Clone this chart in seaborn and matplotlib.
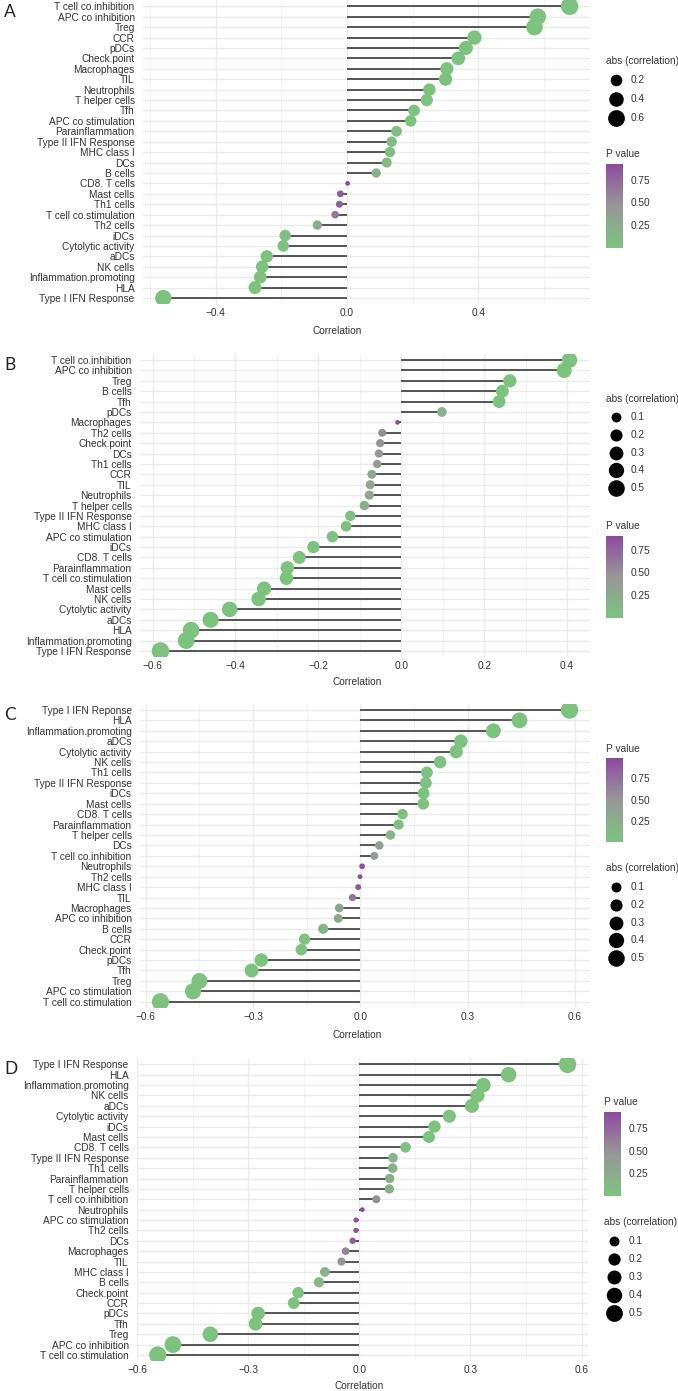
import numpy as np
import pandas as pd
import matplotlib
matplotlib.use("Agg")
import matplotlib.pyplot as plt
import seaborn as sns
from matplotlib.colors import LinearSegmentedColormap, Normalize
import matplotlib.colorbar as mcolorbar

# ---------------- data ----------------
a_cats = ["T cell co.inhibition", "APC co inhibition", "Treg", "CCR", "pDCs", "Check.point",
          "Macrophages", "TIL", "Neutrophils", "T helper cells", "Tfh", "APC co stimulation",
          "Parainflammation", "Type II IFN Response", "MHC class I", "DCs", "B cells",
          "CD8. T cells", "Mast cells", "Th1 cells", "T cell co.stimulation", "Th2 cells",
          "iDCs", "Cytolytic activity", "aDCs", "NK cells", "Inflammation.promoting", "HLA",
          "Type I IFN Response"]
a_corr = [0.678, 0.581, 0.571, 0.388, 0.362, 0.339, 0.304, 0.300, 0.251, 0.243, 0.204, 0.194,
          0.151, 0.136, 0.131, 0.121, 0.089, 0.002, -0.020, -0.023, -0.036, -0.090, -0.188,
          -0.194, -0.244, -0.258, -0.264, -0.280, -0.559]
a_p = [0.0, 0.0, 0.0, 0.0, 0.0, 0.0, 0.0, 0.0, 0.001, 0.001, 0.005, 0.008, 0.03, 0.05, 0.06,
       0.08, 0.20, 0.92, 0.82, 0.78, 0.65, 0.25, 0.04, 0.03, 0.005, 0.003, 0.002, 0.001, 0.0]
a_size_breaks = [0.2, 0.4, 0.6]

b_cats = ["T cell co.inhibition", "APC co inhibition", "Treg", "B cells", "Tfh", "pDCs",
          "Macrophages", "Th2 cells", "Check.point", "DCs", "Th1 cells", "CCR", "TIL",
          "Neutrophils", "T helper cells", "Type II IFN Response", "MHC class I",
          "APC co stimulation", "iDCs", "CD8. T cells", "Parainflammation",
          "T cell co.stimulation", "Mast cells", "NK cells", "Cytolytic activity", "aDCs",
          "HLA", "Inflammation.promoting", "Type I IFN Response"]
b_corr = [0.406, 0.393, 0.262, 0.244, 0.236, 0.098, -0.009, -0.046, -0.051, -0.054, -0.058,
          -0.071, -0.075, -0.077, -0.089, -0.123, -0.133, -0.166, -0.212, -0.246, -0.275,
          -0.277, -0.331, -0.344, -0.414, -0.460, -0.507, -0.519, -0.581]
b_p = [0.0, 0.0, 0.0, 0.0, 0.0, 0.15, 0.90, 0.52, 0.47, 0.44, 0.40, 0.30, 0.28, 0.27, 0.20,
       0.07, 0.05, 0.015, 0.002, 0.0, 0.0, 0.0, 0.0, 0.0, 0.0, 0.0, 0.0, 0.0, 0.0]
b_size_breaks = [0.1, 0.2, 0.3, 0.4, 0.5]

c_cats = ["Type I IFN Reponse", "HLA", "Inflammation.promoting", "aDCs", "Cytolytic activity",
          "NK cells", "Th1 cells", "Type II IFN Response", "iDCs", "Mast cells", "CD8. T cells",
          "Parainflammation", "T helper cells", "DCs", "T cell co.inhibition", "Neutrophils",
          "Th2 cells", "MHC class I", "TIL", "Macrophages", "APC co inhibition", "B cells",
          "CCR", "Check.point", "pDCs", "Tfh", "Treg", "APC co stimulation",
          "T cell co.stimulation"]
c_corr = [0.585, 0.445, 0.372, 0.281, 0.268, 0.223, 0.186, 0.183, 0.177, 0.176, 0.118, 0.107,
          0.084, 0.053, 0.039, 0.005, -0.001, -0.006, -0.022, -0.059, -0.062, -0.104, -0.156,
          -0.165, -0.277, -0.304, -0.450, -0.468, -0.559]
c_p = [0.0, 0.0, 0.0, 0.0, 0.0, 0.0, 0.001, 0.001, 0.001, 0.002, 0.05, 0.08, 0.15, 0.38, 0.45,
       0.95, 0.99, 0.88, 0.72, 0.32, 0.30, 0.13, 0.02, 0.015, 0.0, 0.0, 0.0, 0.0, 0.0]
c_size_breaks = [0.1, 0.2, 0.3, 0.4, 0.5]

d_cats = ["Type I IFN Response", "HLA", "Inflammation.promoting", "NK cells", "aDCs",
          "Cytolytic activity", "iDCs", "Mast cells", "CD8. T cells", "Type II IFN Response",
          "Th1 cells", "Parainflammation", "T helper cells", "T cell co.inhibition",
          "Neutrophils", "APC co stimulation", "Th2 cells", "DCs", "Macrophages", "TIL",
          "MHC class I", "B cells", "Check.point", "CCR", "pDCs", "Tfh", "Treg",
          "APC co inhibition", "T cell co.stimulation"]
d_corr = [0.562, 0.403, 0.335, 0.319, 0.304, 0.243, 0.203, 0.188, 0.125, 0.091, 0.090, 0.082,
          0.081, 0.046, 0.008, -0.009, -0.009, -0.018, -0.037, -0.048, -0.093, -0.109, -0.165,
          -0.177, -0.273, -0.280, -0.402, -0.503, -0.544]
d_p = [0.0, 0.0, 0.0, 0.0, 0.0, 0.0, 0.0, 0.0, 0.03, 0.18, 0.19, 0.22, 0.23, 0.50, 0.93, 0.88,
       0.88, 0.78, 0.58, 0.47, 0.17, 0.11, 0.01, 0.008, 0.0, 0.0, 0.0, 0.0, 0.0]
d_size_breaks = [0.1, 0.2, 0.3, 0.4, 0.5]

pv_ticks = [0.25, 0.50, 0.75]

# ---------------- style ----------------
sns.set_theme(style="white")
plt.rcParams['font.family'] = ['Liberation Sans', 'DejaVu Sans']

W, H = 678, 1391
TXT = "#333333"
FS = 7.3
cmap = LinearSegmentedColormap.from_list("pv", ["#7CC47E", "#979797", "#8E4A9F"])
DMIN, DMAX = 3.4, 12.6   # marker diameters in points (area scale like ggplot)

fig = plt.figure(figsize=(W / 100, H / 100), dpi=100)


def rect(l, t, r, b):
    return [l / W, 1 - b / H, (r - l) / W, (b - t) / H]


legend_items = []


def draw_panel(cats, corr, pv, box, major, minor, letter, letter_y, xlabel_pos,
               size_breaks, size_title_y, size_rows_y, p_title_y, cbar_box, lx):
    df = pd.DataFrame({"cat": cats, "corr": corr, "p": pv})
    df["abs"] = df["corr"].abs()
    pmin, pmax = df["p"].min(), df["p"].max()
    amin, amax = df["abs"].min(), df["abs"].max()

    def size_of(v):
        t = (v - amin) / (amax - amin)
        return (DMIN + np.sqrt(max(t, 0)) * (DMAX - DMIN)) ** 2

    size_map = {v: size_of(v) for v in df["abs"].unique()}

    ax = fig.add_axes(rect(*box))
    ax.set_axisbelow(True)
    ax.hlines(df["cat"], 0, df["corr"], color="#2a2a2a", lw=1.1, zorder=2)
    sns.scatterplot(data=df, x="corr", y="cat", hue="p", size="abs", palette=cmap,
                    hue_norm=(pmin, pmax), sizes=size_map,
                    linewidth=0, legend=False, ax=ax, zorder=3, alpha=1)
    n = len(cats)
    ax.set_ylim(n - 0.4, -0.6)
    lo = min(df["corr"].min(), 0)
    hi = max(df["corr"].max(), 0)
    r = hi - lo
    ax.set_xlim(lo - 0.05 * r, hi + 0.05 * r)
    ax.set_xticks(major, labels=[f"{v:.1f}".replace("-", "\u2212") for v in major])
    ax.set_xticks(minor, minor=True)
    ax.grid(True, which="major", axis="both", color="#EBEBEB", lw=1.0)
    ax.grid(True, which="minor", axis="x", color="#F3F3F3", lw=0.7)
    for s in ax.spines.values():
        s.set_visible(False)
    ax.tick_params(axis="y", length=0, labelsize=FS, labelcolor=TXT, pad=6)
    ax.tick_params(axis="x", which="both", length=0, labelsize=FS, labelcolor=TXT, pad=3)
    ax.set_xlabel("")
    ax.set_ylabel("")

    fig.text(4 / W, 1 - letter_y / H, letter, fontsize=12.5, family=["Lato", "DejaVu Sans"],
             color="#222222", ha="left", va="center")
    fig.text(xlabel_pos[0] / W, 1 - xlabel_pos[1] / H, "Correlation", fontsize=FS,
             color=TXT, ha="center", va="center")

    # colour bar legend
    cax = fig.add_axes(rect(*cbar_box))
    cb = mcolorbar.ColorbarBase(cax, cmap=cmap, norm=Normalize(pmin, pmax),
                                orientation="vertical")
    cb.outline.set_visible(False)
    cb.set_ticks(pv_ticks)
    cb.set_ticklabels([f"{t:.2f}" for t in pv_ticks])
    cb.minorticks_off()
    cax.tick_params(which="major", direction="in", length=3.2, width=0.8, color="white",
                    labelcolor=TXT, labelsize=FS, left=True, right=True, pad=5.5)
    fig.text(lx / W, 1 - p_title_y / H, "P value", fontsize=FS, color=TXT,
             ha="left", va="center")

    # size legend
    fig.text(lx / W, 1 - size_title_y / H, "abs (correlation)", fontsize=FS, color=TXT,
             ha="left", va="center")
    for b, yy in zip(size_breaks, size_rows_y):
        legend_items.append((lx + 10, yy, size_of(b), f"{b:.1f}", lx + 25))


draw_panel(a_cats, a_corr, a_p, (143, 0, 590, 304.3), [-0.4, 0.0, 0.4],
           [-0.6, -0.2, 0.2, 0.6], "A", 12, (337.5, 331), a_size_breaks, 61,
           [80, 99, 118], 154, (606, 164, 623, 248), 606)
draw_panel(b_cats, b_corr, b_p, (140, 353.8, 590, 657.2),
           [-0.6, -0.4, -0.2, 0.0, 0.2, 0.4], [-0.5, -0.3, -0.1, 0.1, 0.3],
           "B", 365, (357.5, 682), b_size_breaks, 399, [417, 435, 452.5, 470, 488], 526,
           (606, 536, 623, 618), 606)
draw_panel(c_cats, c_corr, c_p, (140, 703.7, 590, 1008),
           [-0.6, -0.3, 0.0, 0.3, 0.6], [-0.45, -0.15, 0.15, 0.45],
           "C", 715, (357, 1035), c_size_breaks, 868, [887, 905, 923, 940, 958], 749,
           (606, 758, 623, 842), 606)
draw_panel(d_cats, d_corr, d_p, (137, 1058.1, 588, 1361.2),
           [-0.6, -0.3, 0.0, 0.3, 0.6], [-0.45, -0.15, 0.15, 0.45],
           "D", 1069, (359, 1386), d_size_breaks, 1222, [1241, 1259, 1277, 1295, 1313], 1102,
           (604, 1112, 621, 1196), 604)

# overlay for size-legend keys
ov = fig.add_axes([0, 0, 1, 1], facecolor="none")
ov.set_xlim(0, W)
ov.set_ylim(H, 0)
ov.axis("off")
for x, y, s, lab, tx in legend_items:
    ov.scatter([x], [y], s=s, color="black", linewidth=0)
    ov.text(tx, y, lab, fontsize=FS, color=TXT, ha="left", va="center")

fig.savefig("out.png", dpi=100, facecolor="white")
